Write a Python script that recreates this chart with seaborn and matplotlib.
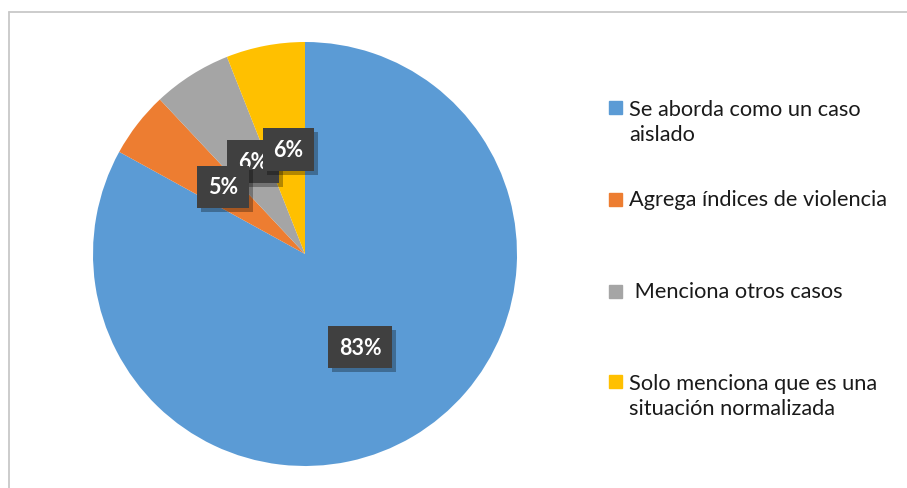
import matplotlib
matplotlib.use("Agg")
import matplotlib.pyplot as plt
import matplotlib.patheffects as pe
import seaborn as sns
import numpy as np
from matplotlib.patches import Rectangle
from matplotlib.lines import Line2D

categories = ["Se aborda como un caso\naislado", "Agrega índices de violencia",
              " Menciona otros casos", "Solo menciona que es una\nsituación normalizada"]
values = [83, 5, 6, 6]
pct_labels = ["83%", "5%", "6%", "6%"]
colors = ["#5B9BD5", "#ED7D31", "#A5A5A5", "#FFC000"]

sns.set_theme(style="white")
plt.rcParams['font.family'] = ['Lato', 'DejaVu Sans']

W, H = 907, 489
fig = plt.figure(figsize=(W / 100, H / 100), dpi=100)
fig.patch.set_facecolor("white")

# frame
fig.add_artist(Line2D([9 / W, 9 / W], [0, 1 - 13 / H], transform=fig.transFigure,
                      color="#c8c8c8", lw=1.3))
fig.add_artist(Line2D([9 / W, 1], [1 - 13 / H, 1 - 13 / H], transform=fig.transFigure,
                      color="#c8c8c8", lw=1.3))

cx, cy, r = 305, 255, 212
ax = fig.add_axes([(cx - r) / W, (H - cy - r) / H, 2 * r / W, 2 * r / H])
wedges, _ = ax.pie(values, colors=colors, startangle=90, counterclock=False,
                   radius=1.0, wedgeprops=dict(linewidth=0))
ax.set_xlim(-1, 1)
ax.set_ylim(-1, 1)
ax.set_axis_off()

total = sum(values)
cum = 0
zorders = [5, 8, 6, 7]
dists = [0.51, 0.5, 0.5, 0.5]
ang_off = [0, -1.5, -3.0, -1.8]
for i, (v, lab) in enumerate(zip(values, pct_labels)):
    mid = 90 - (cum + v / 2) / total * 360 + ang_off[i]
    cum += v
    x = dists[i] * np.cos(np.radians(mid))
    y = dists[i] * np.sin(np.radians(mid))
    t = ax.text(x, y, lab, ha="center", va="center", fontsize=15.5, fontweight="bold",
                color="white", zorder=zorders[i],
                bbox=dict(boxstyle="square,pad=0.5", fc="#404040", ec="none"))
    t.get_bbox_patch().set_path_effects([
        pe.SimplePatchShadow(offset=(3, -3), shadow_rgbFace="black", alpha=0.3),
        pe.Normal()])

# legend
entry_y = [108, 200, 292, 382]
n_lines = [2, 1, 1, 2]
line_gap = 29
for lab, col, y0, n in zip(categories, colors, entry_y, n_lines):
    fig.add_artist(Rectangle((609 / W, 1 - (y0 + 6.5) / H), 13 / W, 13 / H,
                             transform=fig.transFigure, color=col))
    yc = y0 + (n - 1) * line_gap / 2
    fig.text(629 / W, 1 - yc / H, lab, ha="left", va="center", fontsize=15.7,
             color="#1a1a1a", linespacing=1.3)

fig.savefig("out.png", dpi=100)
